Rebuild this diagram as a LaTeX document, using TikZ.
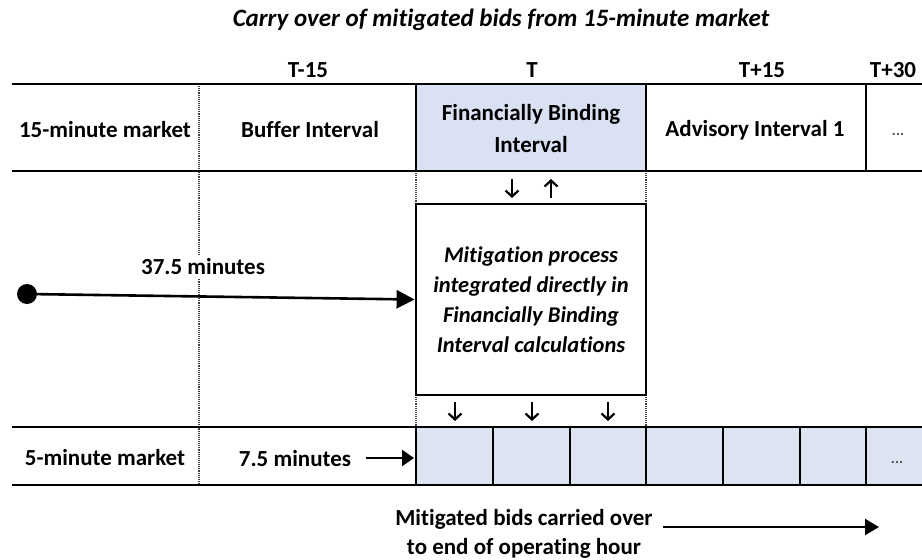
\documentclass[tikz,border=0pt]{standalone}
\usepackage{fontspec}
\setmainfont{Carlito}[Ligatures=NoCommon]
\usetikzlibrary{arrows.meta}
\definecolor{fbblue}{HTML}{D9E1F2}
\definecolor{dotblue}{HTML}{DDE3F0}
\begin{document}
\begin{tikzpicture}[x=1pt,y=-1pt,
  every node/.style={font=\fontsize{23}{27}\selectfont\bfseries, inner sep=0pt, text=black},
  thick line/.style={line width=2.8pt},
  cell line/.style={line width=2.6pt},
  dotline/.style={line width=1.1pt, densely dotted, black!75},
  small arrow/.style={line width=2.2pt, -{Straight Barb[length=6pt,width=13pt,line width=2.2pt]}},
  big arrow/.style={line width=2.6pt, -{Triangle[length=18pt,width=18pt]}},
  lbl/.style={align=center}
]
\useasboundingbox (0,0) rectangle (922,560);
% fills
\fill[fbblue] (416,84) rectangle (646,171);
\fill[dotblue] (416,427) rectangle (922,485);
% dotted verticals
\draw[dotline] (199,84) -- (199,485);
\draw[dotline] (416,171) -- (416,204);
\draw[dotline] (416,395) -- (416,427);
\draw[dotline] (646,171) -- (646,204);
\draw[dotline] (646,395) -- (646,427);
% horizontal lines
\draw[thick line] (12,84) -- (922,84);
\draw[thick line] (12,171) -- (922,171);
\draw[thick line] (12,427) -- (922,427);
\draw[thick line] (12,485) -- (922,485);
% row 1 solid verticals
\foreach \x in {416,646,866} \draw[cell line] (\x,84) -- (\x,171);
% row 2 verticals
\foreach \x in {416,493,570,646,723,800,866} \draw[cell line] (\x,427) -- (\x,485);
% title
\node (title) at (501,20) {\fontsize{25}{28}\selectfont\bfseries\itshape Carry over of mitigated bids from 15-minute market};
% time labels
\node (tm15) at (308,70) {T-15};
\node (t0) at (532,70) {T};
\node (tp15) at (762,70) {T+15};
\node (tp30) at (893,70) {T+30};
% row 1 labels
\node (m15) at (105,130) {15-minute market};
\node (buf) at (310,130) {Buffer Interval};
\node[lbl] (fb) at (531,129) {Financially Binding\\[5pt]Interval};
\node (adv) at (755,130) {Advisory Interval 1};
\node (dots1) at (898,134) {\fontsize{15}{17}\selectfont\color{black!70}...};
% mitigation box
\node[draw, line width=2.8pt, minimum width=230pt, minimum height=191pt, align=center,
      font=\fontsize{22.5}{30}\selectfont\bfseries\itshape] (mit) at (531,299.5)
  {Mitigation process\\integrated directly in\\Financially Binding\\Interval calculations};
% small arrows above box
\coordinate (a1t) at (512,179); \coordinate (a1b) at (512,198);
\coordinate (a2t) at (551,179); \coordinate (a2b) at (551,198);
\draw[small arrow] (a1t) -- (a1b);
\draw[small arrow] (a2b) -- (a2t);
% small arrows below box
\foreach \x [count=\i] in {455,532,608} {
  \coordinate (b\i t) at (\x,402); \coordinate (b\i b) at (\x,421);
  \draw[small arrow] (b\i t) -- (b\i b);
}
% 37.5 minutes arrow
\coordinate (start) at (27,294);
\fill (start) circle (10pt);
\node[fill=white, inner xsep=1pt, inner ysep=4pt] (lab375) at (203,267) {37.5 minutes};
\draw[big arrow] (start) -- (mit.west);
% row 2 labels
\node (m5) at (105,458) {5-minute market};
\node (lab75) at (295,459) {7.5 minutes};
\coordinate (a75s) at (366,458);
\draw[line width=2.4pt, -{Triangle[length=12pt,width=16pt]}] (a75s) -- (414,458);
\node (dots2) at (897,462) {\fontsize{15}{17}\selectfont\color{black!70}...};
% bottom text
\node[lbl] (carry) at (524,534) {Mitigated bids carried over\\[2pt]to end of operating hour};
\coordinate (c1) at (663,527); \coordinate (c2) at (879,527);
\draw[line width=2.4pt, -{Triangle[length=14pt,width=16pt]}] (c1) -- (c2);
\end{tikzpicture}
\end{document}
